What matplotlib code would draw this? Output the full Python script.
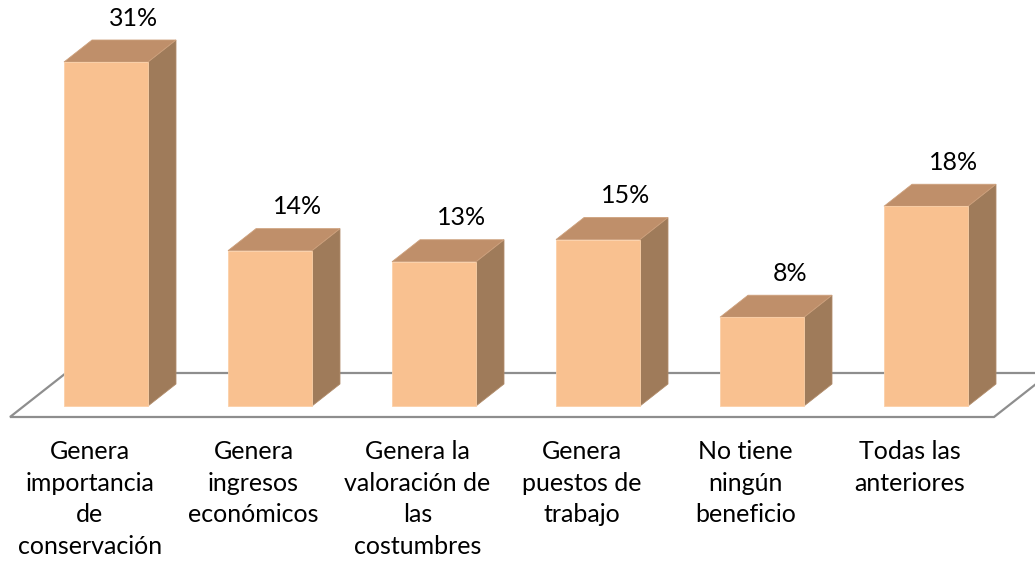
import matplotlib
matplotlib.use("Agg")
import matplotlib.pyplot as plt
from matplotlib.patches import Polygon

plt.rcParams['font.family'] = ['Lato', 'DejaVu Sans']

categories = [
    "Genera\nimportancia\nde\nconservación",
    "Genera\ningresos\neconómicos",
    "Genera la\nvaloración de\nlas\ncostumbres",
    "Genera\npuestos de\ntrabajo",
    "No tiene\nningún\nbeneficio",
    "Todas las\nanteriores",
]
values = [31, 14, 13, 15, 8, 18]
value_labels = ["31%", "14%", "13%", "15%", "8%", "18%"]

FRONT = "#F9C190"
TOP = "#BF8F6A"
SIDE = "#9F7B5A"
FLOOR_EDGE = "#8E8E8E"

W, H = 1035, 563
fig = plt.figure(figsize=(W / 100, H / 100), dpi=100)
# axes: x = category index, y = percent
ax = fig.add_axes([24 / W, (H - 406) / H, 984 / W, 344 / H])
ax.set_xlim(-0.5, len(values) - 0.5)
ax.set_ylim(0, 31)
ax.axis("off")

# oblique depth vector (one full bar depth) in data units
DX = 28 / 164
DY = 22 / (344 / 31)
half = 0.512 / 2

def shifted(x, y, d):
    return (x + DX * d, y + DY * d)

# floor plane spanning the category range, slightly deeper than the bars
x0, x1 = -0.5, len(values) - 0.5
floor = [shifted(x0, 0, -0.5), shifted(x1, 0, -0.5),
         shifted(x1, 0, 1.5), shifted(x0, 0, 1.5)]
ax.add_patch(Polygon(floor, closed=True, facecolor="white",
                     edgecolor=FLOOR_EDGE, linewidth=1.6, clip_on=False,
                     zorder=1))

for i, v in enumerate(values):
    l, r = i - half, i + half
    front = [(l, 0), (r, 0), (r, v), (l, v)]
    top = [(l, v), (r, v), shifted(r, v, 1), shifted(l, v, 1)]
    side = [(r, 0), shifted(r, 0, 1), shifted(r, v, 1), (r, v)]
    ax.add_patch(Polygon(side, closed=True, facecolor=SIDE,
                         edgecolor="#B08A68", linewidth=0.6,
                         clip_on=False, zorder=2))
    ax.add_patch(Polygon(top, closed=True, facecolor=TOP,
                         edgecolor="#CDA07C", linewidth=0.6,
                         clip_on=False, zorder=2))
    ax.add_patch(Polygon(front, closed=True, facecolor=FRONT,
                         edgecolor="#FBD0A8", linewidth=0.6,
                         clip_on=False, zorder=3))
    ax.text(i + DX, v + 2 * DY, value_labels[i], ha="center",
            va="center", fontsize=18, color="black", clip_on=False)
    ax.text(i - 0.1, -3.1, categories[i], ha="center", va="top",
            fontsize=18, color="black", linespacing=1.45,
            multialignment="center", clip_on=False)

fig.savefig("out.png", dpi=100, facecolor="white")
